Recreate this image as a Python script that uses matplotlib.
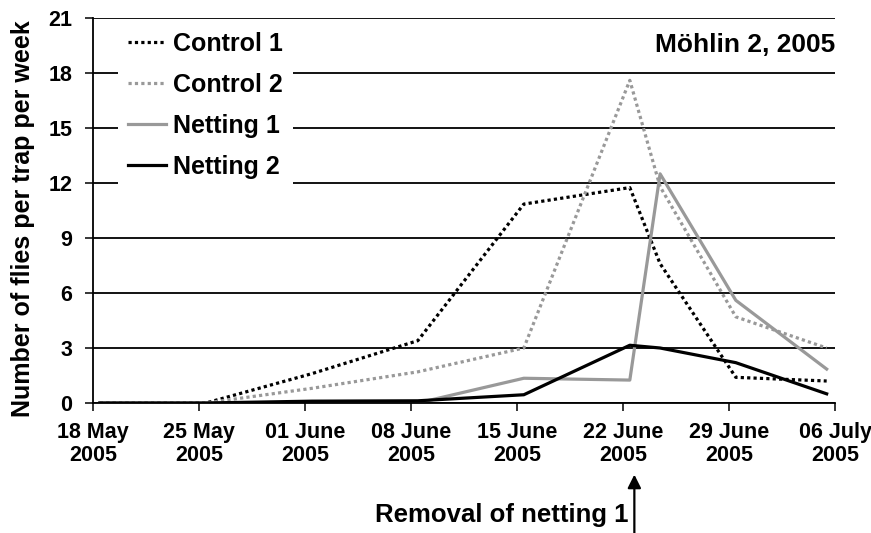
import matplotlib
matplotlib.use("Agg")
import matplotlib.pyplot as plt
import numpy as np
import pandas as pd

# ---- data ----
sample_dates = ['2005-05-18', '2005-05-25', '2005-06-01', '2005-06-08', '2005-06-15',
                '2005-06-22', '2005-06-24', '2005-06-29', '2005-07-05']
control1 = [0, 0, 1.6, 3.4, 10.85, 11.75, 7.6, 1.4, 1.2]
control2 = [0, 0, 0.8, 1.7, 3.0, 17.6, 11.8, 4.7, 3.0]
netting1 = [0, 0, 0, 0, 1.35, 1.25, 12.5, 5.6, 1.85]
netting2 = [0, 0, 0.1, 0.12, 0.45, 3.15, 3.0, 2.2, 0.5]
tick_dates = ['2005-05-18', '2005-05-25', '2005-06-01', '2005-06-08', '2005-06-15',
              '2005-06-22', '2005-06-29', '2005-07-06']
tick_labels = ['18 May\n2005', '25 May\n2005', '01 June\n2005', '08 June\n2005',
               '15 June\n2005', '22 June\n2005', '29 June\n2005', '06 July\n2005']
y_ticks = [0, 3, 6, 9, 12, 15, 18, 21]
title = 'Möhlin 2, 2005'
annotation = 'Removal of netting 1'
removal_date = '2005-06-22'

plt.rcParams['font.family'] = ['Liberation Sans', 'DejaVu Sans']
plt.rcParams['font.weight'] = 'bold'

start = pd.Timestamp(sample_dates[0])
def days(ds):
    return np.array([(pd.Timestamp(d) - start).days for d in ds], dtype=float)

x = days(sample_dates) + 0.45   # points sit mid-day (between tick marks)
xt = days(tick_dates)

fig = plt.figure(figsize=(8.71, 5.33), dpi=100)
ax = fig.add_axes([93/871, 1 - 403/533, (835 - 93)/871, (403 - 18)/533])

grey = '#999999'
lw = 2.3
ax.plot(x, control1, color='black', lw=lw, ls=(0, (1, 1)), label='Control 1')
ax.plot(x, control2, color=grey, lw=lw, ls=(0, (1, 1)), label='Control 2')
ax.plot(x, netting1, color=grey, lw=lw, ls='-', label='Netting 1')
ax.plot(x, netting2, color='black', lw=lw, ls='-', label='Netting 2')

ax.set_xlim(xt[0], xt[-1])
ax.set_ylim(0, 21)
ax.set_yticks(y_ticks)
ax.set_yticklabels([str(v) for v in y_ticks], fontsize=15.5, fontweight='bold')
ax.set_xticks(xt)
ax.set_xticklabels(tick_labels, fontsize=15.5, fontweight='bold', linespacing=1.1)
ax.tick_params(axis='y', direction='out', length=6, width=1.1, pad=9)
ax.tick_params(axis='x', direction='out', length=6, width=1.1, pad=8)
ax.grid(axis='y', color='black', lw=1.3)
ax.set_axisbelow(True)
for s in ['top', 'right']:
    ax.spines[s].set_visible(False)
for s in ['left', 'bottom']:
    ax.spines[s].set_linewidth(1.3)

ax.set_ylabel('Number of flies per trap per week', fontsize=18, fontweight='bold')
ax.yaxis.set_label_coords(-0.078, 0.478)

leg = ax.legend(loc='upper left', bbox_to_anchor=(0.034, 0.99), frameon=True,
                facecolor='white', edgecolor='none', framealpha=1, fancybox=False,
                handlelength=1.5, handletextpad=0.3, labelspacing=0.68, borderpad=0.4,
                borderaxespad=0.0, prop={'weight': 'bold', 'size': 18})

ax.text(1.0, 0.93, title, transform=ax.transAxes, ha='right', va='center',
        fontsize=19, fontweight='bold')

# arrow for removal of netting 1
xr = days([removal_date])[0] + 0.75
ax.annotate('', xy=(xr, -0.186), xycoords=('data', 'axes fraction'),
            xytext=(xr, -0.345), textcoords=('data', 'axes fraction'),
            arrowprops=dict(arrowstyle='-|>', color='black', lw=1.6, mutation_scale=20,
                            shrinkA=0, shrinkB=0),
            annotation_clip=False)
ax.text(xr - 0.4, -0.29, annotation, transform=ax.get_xaxis_transform(),
        ha='right', va='center', fontsize=18.5, fontweight='bold')

fig.savefig('out.png', dpi=100)
